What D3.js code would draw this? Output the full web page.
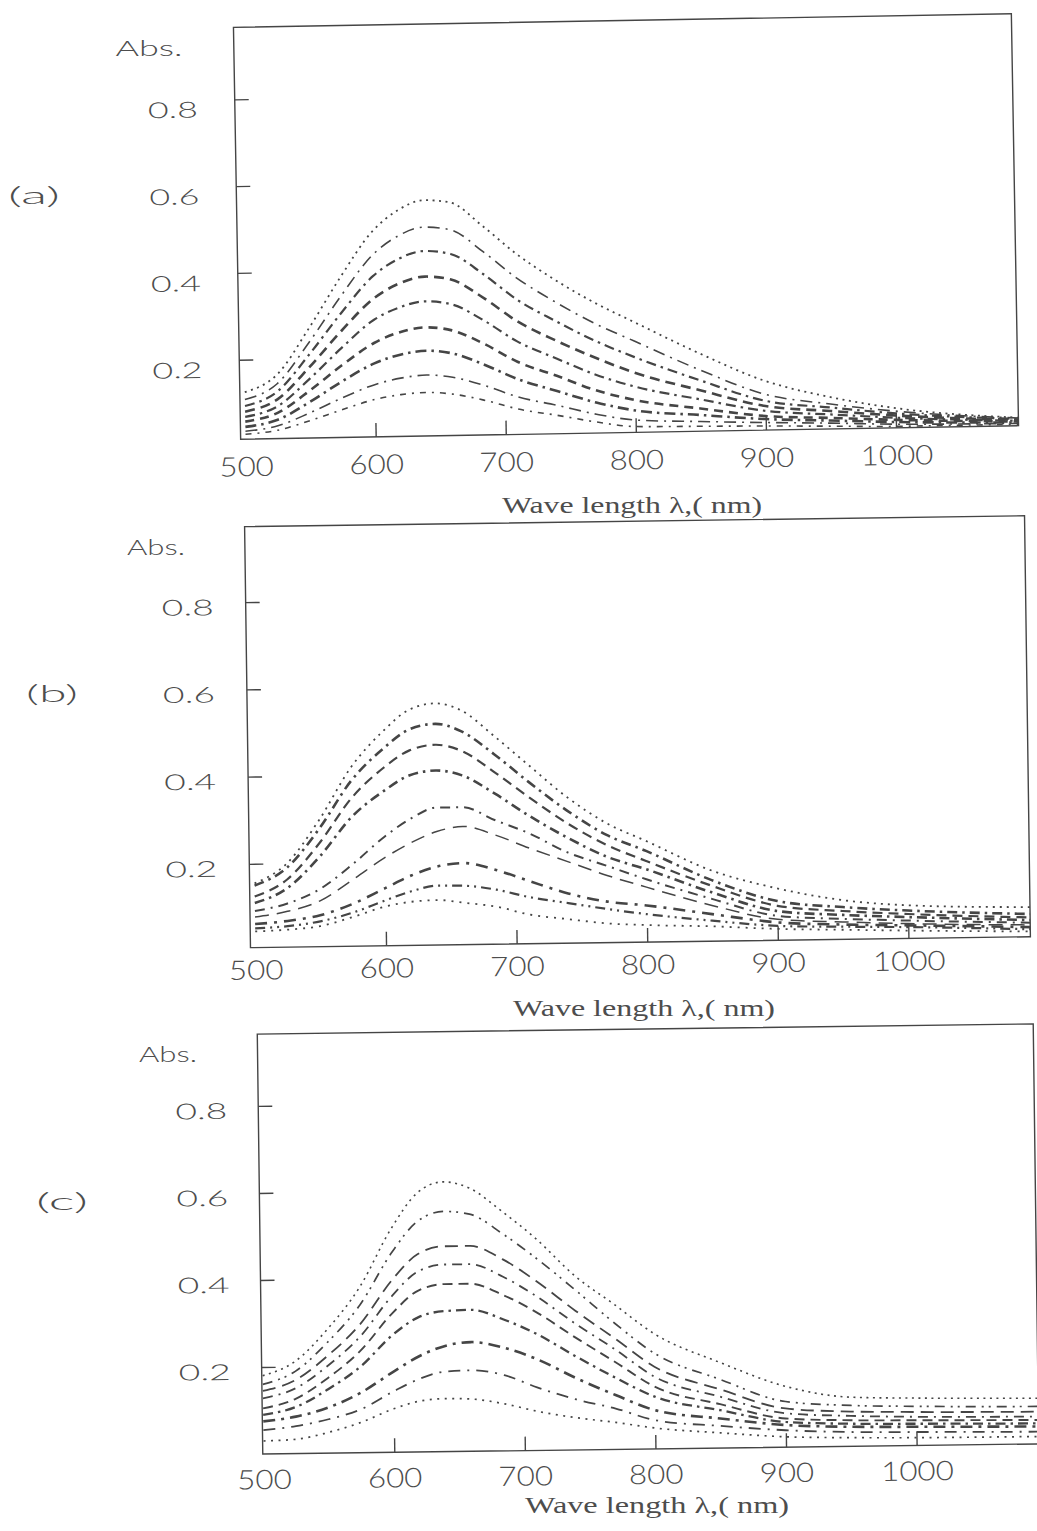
<!DOCTYPE html>
<html><head><meta charset="utf-8">
<script src="https://cdn.jsdelivr.net/npm/d3@7"></script>
<style>html,body{margin:0;padding:0;background:#fff;} svg{display:block;}</style>
</head><body>
<svg id="chart" width="1037" height="1531"></svg>
<script>
// ---------------- DATA ----------------
const wavelengths = [500, 525, 550, 575, 600, 620, 640, 660, 685, 710, 740, 770, 800, 850, 900, 950, 1000, 1095];

// panel (a)
const a1 = [.125,.164,.269,.386,.490,.538,.560,.554,.498,.434,.371,.317,.271,.196,.130,.090,.062,.035];
const a2 = [.108,.143,.237,.342,.436,.479,.498,.491,.439,.378,.320,.269,.227,.158,.099,.074,.055,.034];
const a3 = [.093,.125,.209,.303,.387,.426,.443,.435,.387,.328,.276,.229,.190,.134,.084,.066,.050,.032];
const a4 = [.080,.107,.180,.262,.335,.369,.384,.376,.332,.278,.231,.190,.154,.111,.072,.058,.045,.030];
const a5 = [.068,.091,.153,.223,.286,.314,.327,.319,.280,.231,.190,.151,.122,.090,.061,.050,.040,.028];
const a6 = [.057,.076,.126,.183,.233,.257,.267,.259,.226,.184,.150,.115,.091,.069,.049,.042,.035,.026];
const a7 = [.045,.060,.100,.146,.186,.205,.213,.206,.178,.144,.115,.087,.067,.054,.042,.036,.030,.024];
const a8 = [.035,.046,.075,.108,.137,.151,.157,.151,.130,.103,.082,.060,.045,.039,.034,.030,.025,.022];
const a9 = [.028,.036,.057,.081,.103,.113,.117,.112,.096,.075,.059,.042,.030,.028,.026,.023,.020,.020];

// panel (b)
const b1 = [.155,.200,.298,.418,.500,.548,.562,.545,.485,.420,.343,.282,.240,.170,.127,.098,.084,.076];
const b2 = [.150,.190,.278,.387,.460,.503,.515,.497,.443,.381,.312,.255,.217,.148,.098,.082,.072,.060];
const b3 = [.125,.163,.245,.347,.416,.455,.467,.452,.402,.346,.283,.232,.194,.135,.087,.073,.064,.052];
const b4 = [.110,.143,.214,.304,.363,.398,.408,.396,.353,.303,.250,.205,.175,.120,.075,.064,.057,.046];
const b5 = [.092,.108,.140,.195,.258,.298,.323,.323,.292,.262,.216,.184,.152,.105,.064,.055,.049,.040];
const b6 = [.078,.090,.113,.160,.210,.243,.268,.279,.258,.228,.195,.162,.134,.090,.056,.048,.042,.035];
const b7 = [.062,.068,.080,.105,.140,.168,.188,.195,.178,.152,.122,.102,.092,.070,.049,.042,.038,.030];
const b8 = [.052,.056,.066,.085,.112,.132,.144,.143,.133,.115,.100,.085,.072,.055,.041,.037,.034,.025];
const b9 = [.045,.048,.055,.075,.098,.108,.111,.104,.094,.075,.063,.052,.047,.042,.034,.030,.026,.020];

// panel (c)
const c1 = [.180,.212,.285,.380,.515,.595,.620,.605,.550,.488,.400,.333,.265,.197,.140,.113,.109,.105];
const c2 = [.160,.189,.255,.339,.459,.530,.552,.545,.499,.443,.368,.290,.220,.158,.105,.094,.090,.086];
const c3 = [.145,.169,.224,.295,.396,.455,.472,.472,.440,.390,.320,.255,.189,.135,.089,.080,.077,.074];
const c4 = [.128,.150,.201,.267,.360,.415,.430,.430,.400,.355,.290,.230,.166,.118,.078,.070,.066,.063];
const c5 = [.105,.126,.173,.234,.320,.371,.385,.385,.358,.318,.258,.201,.143,.101,.066,.060,.058,.055];
const c6 = [.090,.107,.147,.198,.270,.310,.323,.325,.302,.268,.215,.165,.120,.087,.058,.052,.050,.047];
const c7 = [.075,.085,.105,.138,.185,.220,.243,.251,.237,.210,.165,.125,.089,.068,.051,.045,.043,.040];
const c8 = [.055,.063,.078,.100,.140,.168,.184,.186,.174,.145,.116,.094,.066,.051,.039,.033,.031,.028];
const c9 = [.030,.033,.048,.070,.100,.117,.122,.120,.108,.090,.074,.062,.048,.035,.024,.020,.018,.017];

const seriesA = [a1, a2, a3, a4, a5, a6, a7, a8, a9];
const seriesB = [b1, b2, b3, b4, b5, b6, b7, b8, b9];
const seriesC = [c1, c2, c3, c4, c5, c6, c7, c8, c9];

const xTickValues = [500, 600, 700, 800, 900, 1000];
const xTickLabels = ["500", "600", "700", "800", "900", "1000"];
const yTickValues = [0.2, 0.4, 0.6, 0.8];
const yTickLabels = ["0.2", "0.4", "0.6", "0.8"];
const panelTags = ["(a)", "(b)", "(c)"];
const yTitle = "Abs.";
const xTitle = "Wave length \u03bb,( nm)";

// ---------------- STYLES / LAYOUT ----------------
const stylesA = [
  {d:"2 4.5", w:1.8}, {d:"12 6 2 6", w:1.6}, {d:"10 5 2.5 5", w:2.2},
  {d:"10 6", w:2.6}, {d:"10 5 2.5 5", w:2.2}, {d:"9 6", w:2.6},
  {d:"11 5 2.5 5", w:2.6}, {d:"12 6 2 6", w:1.6}, {d:"6 6 2 6", w:1.6}
];
const stylesB = [
  {d:"2 5", w:1.8}, {d:"10 5 2.5 5", w:2.6}, {d:"10 6", w:2.2},
  {d:"10 5 2.5 5", w:2.6}, {d:"10 6 2 6", w:2.0}, {d:"14 8", w:1.5},
  {d:"12 7 3 7", w:2.6}, {d:"10 5 2 5 2 5", w:2.2}, {d:"2 6", w:1.8}
];
const stylesC = [
  {d:"2 4.5", w:1.6}, {d:"10 6 2 5 2 6", w:1.7}, {d:"13 7", w:1.8},
  {d:"10 6 2 6", w:1.8}, {d:"10 6", w:1.9}, {d:"10 5 2.5 5", w:2.3},
  {d:"12 6 3 6", w:2.6}, {d:"12 7 2 7", w:1.8}, {d:"2 5.5", w:1.7}
];

const panels = [
  {series: seriesA, styles: stylesA, left:237, right:1015, top:20.5, bottom:432.5, cx:626, cy:226.5, angle:-1.0,
   xDom:[496.2, 1094.2], yDom:[0.0166, 0.966], xLabelDy:37, yLabelGap:37, yLabelDy:17, yLabelW:50,
   absX:149, absY:56, absW:67, tagX:34, tagY:204, titleX:632, titleY:513, titleW:260},
  {series: seriesB, styles: stylesB, left:247.5, right:1027.5, top:521.2, bottom:942.2, cx:637.5, cy:731.7, angle:-0.8,
   xDom:[496.2, 1093.4], yDom:[0.008, 0.973], xLabelDy:32, yLabelGap:32, yLabelDy:12, yLabelW:52,
   absX:156, absY:555, absW:58, tagX:52, tagY:702, titleX:644, titleY:1016, titleW:262},
  {series: seriesC, styles: stylesC, left:260, right:1036, top:1029, bottom:1449, cx:648, cy:1239, angle:-0.75,
   xDom:[499.3, 1093.5], yDom:[0.0, 0.965], xLabelDy:35, yLabelGap:31, yLabelDy:12, yLabelW:52,
   absX:168, absY:1062, absW:58, tagX:62, tagY:1210, titleX:657, titleY:1513, titleW:264}
];

const ink = "#454545";
const textInk = "#4d4d4d";
const sansFont = "Lato, 'Liberation Sans', Arial, sans-serif";
const svg = d3.select("#chart");
svg.append("rect").attr("width",1037).attr("height",1531).attr("fill","#fff");

panels.forEach((p, pi) => {
  const x = d3.scaleLinear().domain(p.xDom).range([p.left, p.right]);
  const y = d3.scaleLinear().domain(p.yDom).range([p.bottom, p.top]);

  const g = svg.append("g").attr("transform", `rotate(${p.angle},${p.cx},${p.cy})`);

  const clipId = "clip" + pi;
  g.append("clipPath").attr("id", clipId).append("rect")
    .attr("x", p.left).attr("y", p.top).attr("width", p.right - p.left).attr("height", p.bottom - p.top);

  // curves
  const line = d3.line().x(d => x(d[0])).y(d => y(d[1])).curve(d3.curveMonotoneX);
  const cg = g.append("g").attr("clip-path", `url(#${clipId})`);
  p.series.forEach((s, i) => {
    const st = p.styles[i];
    cg.append("path")
      .attr("d", line(wavelengths.map((w, k) => [w, s[k]])))
      .attr("fill", "none")
      .attr("stroke", ink)
      .attr("stroke-width", st.w)
      .attr("stroke-dasharray", st.d);
  });

  // frame
  g.append("rect").attr("x", p.left).attr("y", p.top)
    .attr("width", p.right - p.left).attr("height", p.bottom - p.top)
    .attr("fill", "none").attr("stroke", ink).attr("stroke-width", 1.4);

  // x axis
  const xa = g.append("g").attr("transform", `translate(0,${p.bottom})`)
    .call(d3.axisBottom(x).tickValues(xTickValues).tickFormat((d, i) => xTickLabels[i]).tickSize(-14));
  xa.select(".domain").remove();
  xa.selectAll(".tick line").attr("stroke", ink).attr("stroke-width", 1.4)
    .filter(d => d < p.xDom[0] + 10).remove();
  xa.selectAll(".tick text")
    .attr("y", p.xLabelDy).attr("dy", null)
    .attr("font-family", sansFont).attr("font-weight", 300)
    .attr("font-size", 27).attr("fill", textInk)
    .attr("textLength", function(d, i){ return xTickLabels[i].length * 18.2; })
    .attr("lengthAdjust", "spacingAndGlyphs");

  // y axis
  const ya = g.append("g").attr("transform", `translate(${p.left},0)`)
    .call(d3.axisLeft(y).tickValues(yTickValues).tickFormat((d, i) => yTickLabels[i]).tickSize(-14));
  ya.select(".domain").remove();
  ya.selectAll(".tick line").attr("stroke", ink).attr("stroke-width", 1.4);
  ya.selectAll(".tick text")
    .attr("x", -p.yLabelGap).attr("dy", null).attr("y", p.yLabelDy)
    .attr("text-anchor", "end")
    .attr("font-family", sansFont).attr("font-weight", 300)
    .attr("font-size", 22).attr("fill", textInk)
    .attr("textLength", p.yLabelW).attr("lengthAdjust", "spacingAndGlyphs");

  // Abs. label
  svg.append("text").attr("x", p.absX).attr("y", p.absY).attr("text-anchor", "middle")
    .attr("font-family", sansFont).attr("font-weight", 300).attr("font-size", 21).attr("fill", textInk)
    .attr("textLength", p.absW).attr("lengthAdjust", "spacingAndGlyphs")
    .text(yTitle);

  // panel tag
  svg.append("text").attr("x", p.tagX).attr("y", p.tagY).attr("text-anchor", "middle")
    .attr("font-family", sansFont).attr("font-weight", 300).attr("font-size", 23).attr("fill", textInk)
    .attr("textLength", 52).attr("lengthAdjust", "spacingAndGlyphs")
    .text(panelTags[pi]);

  // x title
  svg.append("text").attr("x", p.titleX).attr("y", p.titleY).attr("text-anchor", "middle")
    .attr("font-family", "'Liberation Serif', 'Times New Roman', serif").attr("font-size", 24).attr("fill", textInk)
    .attr("textLength", p.titleW).attr("lengthAdjust", "spacingAndGlyphs")
    .text(xTitle);
});
</script>
</body></html>
